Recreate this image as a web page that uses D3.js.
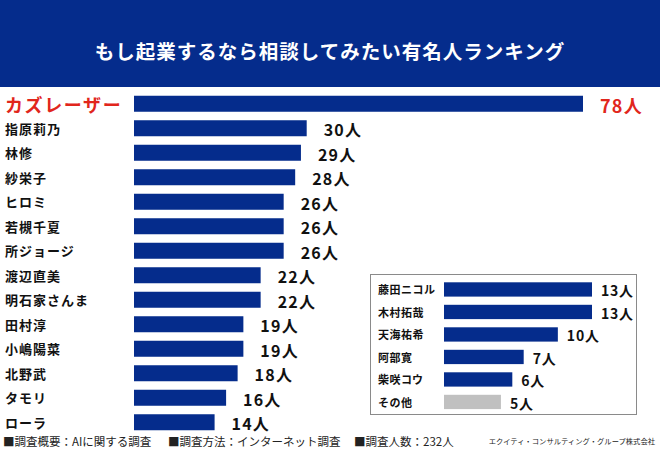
<!DOCTYPE html>
<html><head><meta charset="utf-8">
<script src="https://cdn.jsdelivr.net/npm/d3@7"></script>
<style>
html,body{margin:0;padding:0;background:#fff;}
svg{display:block;font-family:"Noto Sans CJK JP","Noto Sans",sans-serif;}
</style></head>
<body><div id="chart"></div>
<script>
const title = "もし起業するなら相談してみたい有名人ランキング";
const names = ["カズレーザー","指原莉乃","林修","紗栄子","ヒロミ","若槻千夏","所ジョージ","渡辺直美","明石家さんま","田村淳","小嶋陽菜","北野武","タモリ","ローラ"];
const values = [78,30,29,28,26,26,26,22,22,19,19,18,16,14];
const insetNames = ["藤田ニコル","木村拓哉","天海祐希","阿部寛","柴咲コウ","その他"];
const insetValues = [13,13,10,7,6,5];
const unit = "人";
const footerParts = ["■調査概要：AIに関する調査","■調査方法：インターネット調査","■調査人数：232人"];
const credit = "エクイティ・コンサルティング・グループ株式会社";

const W = 660, H = 450;
const blue = "#052c8c", red = "#e1261c", grey = "#c0c0c0";
const svg = d3.select("#chart").append("svg").attr("width", W).attr("height", H);

// header
svg.append("rect").attr("x",0).attr("y",0).attr("width",W).attr("height",87).attr("fill",blue);
svg.append("text").attr("x",W/2).attr("y",50).attr("text-anchor","middle").attr("dominant-baseline","central")
  .attr("fill","#fff").attr("font-size",19.5).attr("font-weight","bold").attr("letter-spacing",1).text(title);

// main bars
const x = d3.scaleLinear().domain([0,78]).range([134,583]);
const y = d3.scaleBand().domain(names).range([91.5, 91.5+14*24.5]).paddingInner(0.347).paddingOuter(0.1735);
const rows = names.map((n,i)=>({n, v:values[i], i}));
svg.append("g").selectAll("rect").data(rows).join("rect")
  .attr("x",x(0)).attr("y",d=>y(d.n)).attr("width",d=>x(d.v)-x(0)).attr("height",y.bandwidth()).attr("fill",blue);
svg.append("g").selectAll("text").data(rows).join("text")
  .attr("x",5).attr("y",d=>y(d.n)+y.bandwidth()/2).attr("dominant-baseline","central")
  .attr("font-weight","bold")
  .attr("font-size",d=>d.i===0?18:13).attr("letter-spacing",d=>d.i===0?1.6:1)
  .attr("fill",d=>d.i===0?red:"#111").text(d=>d.n);
svg.append("g").selectAll("text").data(rows).join("text")
  .attr("x",d=>x(d.v)+17).attr("y",d=>y(d.n)+y.bandwidth()/2+1).attr("dominant-baseline","central")
  .attr("font-weight","bold").attr("font-size",d=>d.i===0?18:16).attr("letter-spacing",1.2)
  .attr("fill",d=>d.i===0?red:"#111").text(d=>d.v+unit);

// inset
svg.append("rect").attr("x",370.5).attr("y",274.5).attr("width",266).attr("height",140)
  .attr("fill","#fff").attr("stroke","#8a8a8a").attr("stroke-width",1);
const x2 = d3.scaleLinear().domain([0,13]).range([444,592]);
const y2 = d3.scaleBand().domain(insetNames).range([278.2, 278.2+6*22.5]).paddingInner(0.364).paddingOuter(0.182);
const irows = insetNames.map((n,i)=>({n, v:insetValues[i], i}));
svg.append("g").selectAll("rect").data(irows).join("rect")
  .attr("x",x2(0)).attr("y",d=>y2(d.n)).attr("width",d=>x2(d.v)-x2(0)).attr("height",y2.bandwidth())
  .attr("fill",d=>d.n==="その他"?grey:blue);
svg.append("g").selectAll("text").data(irows).join("text")
  .attr("x",378).attr("y",d=>y2(d.n)+y2.bandwidth()/2).attr("dominant-baseline","central")
  .attr("font-weight","bold").attr("font-size",11).attr("letter-spacing",0.5).attr("fill","#111").text(d=>d.n);
svg.append("g").selectAll("text").data(irows).join("text")
  .attr("x",d=>x2(d.v)+9).attr("y",d=>y2(d.n)+y2.bandwidth()/2+1).attr("dominant-baseline","central")
  .attr("font-weight","bold").attr("font-size",14).attr("letter-spacing",0.8).attr("fill","#111").text(d=>d.v+unit);

// footer
const fx = [3,168,354];
svg.append("g").selectAll("text").data(footerParts).join("text")
  .attr("x",(d,i)=>fx[i]).attr("y",441).attr("dominant-baseline","central")
  .attr("font-size",11.5).attr("fill","#222").text(d=>d);
svg.append("text").attr("x",655).attr("y",441).attr("text-anchor","end").attr("dominant-baseline","central")
  .attr("font-size",7.3).attr("fill","#222").text(credit);
</script></body></html>
